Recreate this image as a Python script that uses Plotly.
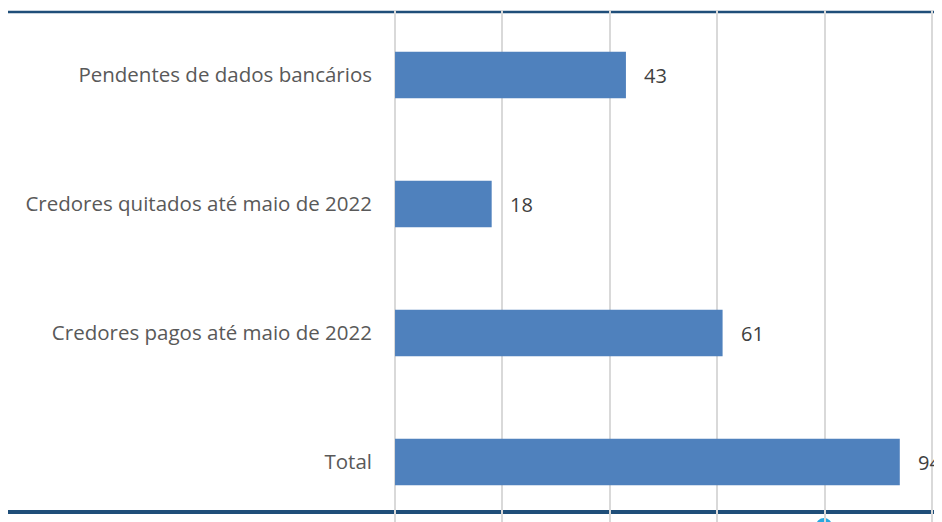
import plotly.graph_objects as go

categories = ["Total", "Credores pagos até maio de 2022",
              "Credores quitados até maio de 2022", "Pendentes de dados bancários"]
values = [94, 61, 18, 43]
x_ticks = [0, 20, 40, 60, 80, 100]

FONT = "Open Sans, Lato, sans-serif"

fig = go.Figure()
fig.add_trace(go.Bar(
    y=categories, x=values, orientation="h",
    marker=dict(color="#4F81BD", line=dict(width=0)),
    hoverinfo="x+y",
))

for c, v in zip(categories, values):
    fig.add_annotation(x=v, y=c, text=str(v), showarrow=False,
                       xanchor="left", xshift=16,
                       font=dict(family=FONT, size=20, color="#404040"))

fig.update_layout(
    width=934, height=514,
    margin=dict(l=386, r=8, t=2, b=0),
    paper_bgcolor="white", plot_bgcolor="rgba(0,0,0,0)",
    bargap=0.64,
    showlegend=False,
    font=dict(family=FONT, size=20, color="#595959"),
    xaxis=dict(range=[-0.19, 100.37], tickvals=x_ticks, showticklabels=False,
               showgrid=True, gridcolor="#D9D9D9", gridwidth=1.5,
               zeroline=False, showline=False, fixedrange=True),
    yaxis=dict(range=[-0.465, 3.504], showgrid=False, zeroline=False,
               showline=False, ticks="", ticklabelstandoff=21,
               tickfont=dict(family=FONT, size=20.5, color="#595959")),
    shapes=[
        dict(type="line", xref="paper", yref="paper", x0=-0.717, x1=1.05,
             y0=0.996, y1=0.996, layer="below",
             line=dict(color="#1F4E79", width=2.5)),
        dict(type="line", xref="paper", yref="paper", x0=-0.73, x1=1.05,
             y0=0.0195, y1=0.0195, layer="below",
             line=dict(color="#1F4E79", width=4)),
        dict(type="circle", xref="paper", yref="paper", x0=0.7815, x1=0.811,
             y0=-0.0234, y1=0.0078, layer="below",
             fillcolor="#29A8E0", line=dict(width=0)),
    ],
)

fig.write_html("out.html")
